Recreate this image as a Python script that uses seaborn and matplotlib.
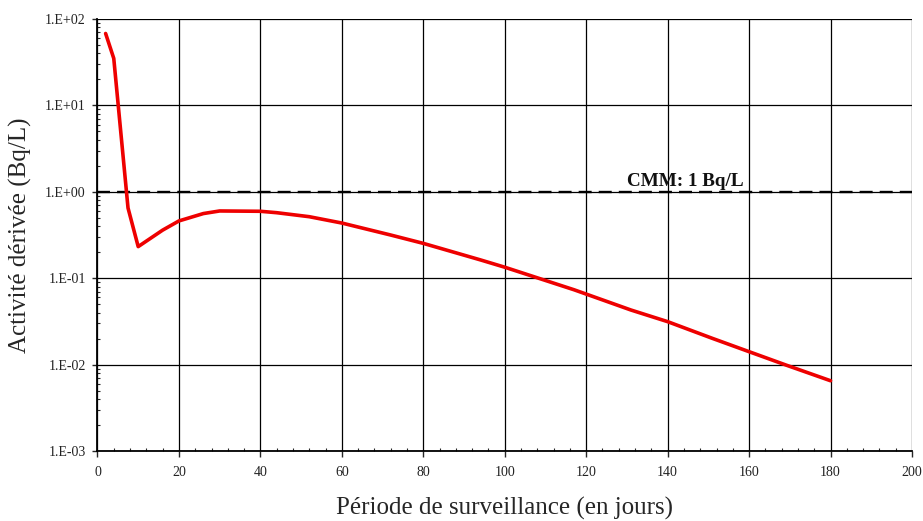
import matplotlib
matplotlib.use("Agg")
import matplotlib.pyplot as plt
import matplotlib.ticker as mticker
import numpy as np
import pandas as pd
import seaborn as sns

# Data
days = [2, 4, 7.5, 10, 16, 20, 26, 30, 40, 44, 52, 60, 72, 80, 94, 100, 117, 131, 140, 151, 160, 169, 180]
activity = [68, 35, 0.65, 0.232, 0.36, 0.46, 0.56, 0.60, 0.595, 0.573, 0.515, 0.435, 0.316, 0.253, 0.163, 0.134,
            0.0735, 0.0428, 0.0314, 0.0201, 0.0141, 0.0099, 0.0065]
cmm_value = 1.0
cmm_label = "CMM: 1 Bq/L"
x_label = "Période de surveillance (en jours)"
y_label = "Activité dérivée (Bq/L)"
y_ticks = [1e-3, 1e-2, 1e-1, 1e0, 1e1, 1e2]
y_tick_labels = ["1.E-03", "1.E-02", "1.E-01", "1.E+00", "1.E+01", "1.E+02"]
x_ticks = list(range(0, 201, 20))

sns.set_style("white")
plt.rcParams['font.family'] = ['Liberation Serif', 'DejaVu Serif']

fig = plt.figure(figsize=(9.23, 5.21), dpi=100)
ax = fig.add_axes([0.1056, 0.1344, 0.8825, 0.8291])

df = pd.DataFrame({"days": days, "activity": activity})
sns.lineplot(data=df, x="days", y="activity", ax=ax, color="#ee0000", linewidth=2.6, zorder=3)

ax.axhline(cmm_value, color="black", linestyle=(0, (5.5, 3)), linewidth=1.7, zorder=2)
ax.text(130, cmm_value * 1.06, cmm_label, fontsize=13.8, fontweight="bold", ha="left", va="bottom",
        color="#111111")

ax.set_yscale("log")
ax.set_xlim(0, 200)
ax.set_ylim(1e-3, 1e2)
ax.set_xticks(x_ticks)
ax.set_xticklabels([str(t) for t in x_ticks])
ax.xaxis.set_minor_locator(mticker.MultipleLocator(4))
ax.set_yticks(y_ticks)
ax.set_yticklabels(y_tick_labels)
ax.yaxis.set_minor_locator(mticker.LogLocator(base=10, subs=np.arange(2, 10)))
ax.yaxis.set_minor_formatter(mticker.NullFormatter())

ax.grid(True, which="major", color="black", linewidth=0.9)
ax.set_axisbelow(True)

ax.tick_params(axis="x", which="major", direction="out", length=4, width=1, pad=6.5, labelsize=10,
               bottom=True, labelcolor="#222222")
ax.tick_params(axis="x", which="minor", direction="in", length=2.5, width=0.8, bottom=True)
ax.tick_params(axis="y", which="major", direction="out", length=3.5, width=1, pad=5, labelsize=10,
               left=True, labelcolor="#222222")
ax.tick_params(axis="y", which="minor", direction="in", length=2.5, width=0.8, left=True)

for s in ["top", "right"]:
    ax.spines[s].set_visible(False)
for s in ["left", "bottom"]:
    ax.spines[s].set_color("black")
    ax.spines[s].set_linewidth(1.3)

ax.set_xlabel(x_label, fontsize=18, labelpad=13)
ax.set_ylabel(y_label, fontsize=18, labelpad=9)

fig.savefig("out.png", dpi=100, facecolor="white")
